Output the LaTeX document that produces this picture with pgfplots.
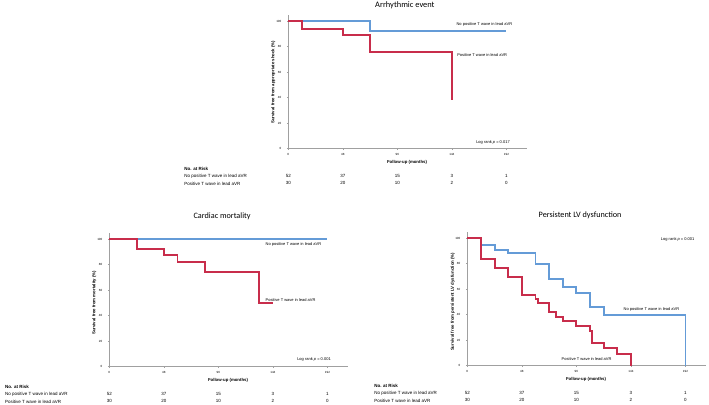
\documentclass[border=0pt]{standalone}
\usepackage{fontspec}
\setmainfont{Liberation Sans}
\newfontfamily\titlefont{Carlito}
\usepackage{pgfplots}
\pgfplotsset{compat=1.18}
\definecolor{kmblue}{RGB}{100,155,215}
\definecolor{kmred}{RGB}{200,45,75}
\definecolor{axgray}{RGB}{160,160,160}
\newcommand{\annf}{\fontsize{4}{4.8}\selectfont}
\newcommand{\labf}{\bfseries\fontsize{4.3}{5}\selectfont}
\newcommand{\tabf}{\fontsize{4.5}{5.4}\selectfont}
\pgfplotsset{kmaxis/.style={
  scale only axis, width=238.6pt, height=134pt,
  xmin=0, xmax=210, ymin=0, ymax=105,
  axis x line=bottom, axis y line=left,
  axis line style={-, draw=axgray, line width=0.8pt},
  xtick={0,48,96,144,192}, ytick={0,20,40,60,80,100},
  tick align=outside, major tick length=1.5pt,
  tick style={draw=axgray, line width=0.5pt},
  ticklabel style={font=\fontsize{3}{3.5}\selectfont},
  yticklabel style={xshift=-2pt},
  /pgf/number format/assume math mode=true,
  clip=false, anchor=south west,
  kmline/.style={line width=1.9pt, line join=miter, line cap=butt},
}}
\newcommand{\risktable}[1]{%
  \node[anchor=west,font=\tabf\bfseries] at (axis cs:#1,-15.7) {No. at Risk};
  \node[anchor=west,font=\tabf] at (axis cs:#1,-21.5) {No positive T wave in lead aVR};
  \node[anchor=west,font=\tabf] at (axis cs:#1,-27.2) {Positive T wave in lead aVR};
  \node[font=\tabf] at (axis cs:0,-21.5) {52};
  \node[font=\tabf] at (axis cs:48,-21.5) {37};
  \node[font=\tabf] at (axis cs:96,-21.5) {15};
  \node[font=\tabf] at (axis cs:144,-21.5) {3};
  \node[font=\tabf] at (axis cs:192,-21.5) {1};
  \node[font=\tabf] at (axis cs:0,-27.2) {30};
  \node[font=\tabf] at (axis cs:48,-27.2) {20};
  \node[font=\tabf] at (axis cs:96,-27.2) {10};
  \node[font=\tabf] at (axis cs:144,-27.2) {2};
  \node[font=\tabf] at (axis cs:192,-27.2) {0};
  \node[font=\labf] at (axis cs:104.5,-11) {Follow-up (months)};
}
\begin{document}
\begin{tikzpicture}
\useasboundingbox (0,0) rectangle (709pt,404pt);
% ---------------- Top: Arrhythmic event
\begin{axis}[kmaxis, at={(288.3pt,255.3pt)}]
\addplot[draw=kmblue, kmline] coordinates {(0,100)(72,100)(72,92.4)(192,92.4)};
\addplot[draw=kmred, kmline] coordinates {(0,100)(12,100)(12,93.5)(48,93.5)(48,88.8)(72,88.8)(72,76)(144,76)(144,38.5)};
\node[anchor=west,font=\annf] at (axis cs:145,97.6) {No positive T wave in lead aVR};
\node[anchor=west,font=\annf] at (axis cs:145.6,73.4) {Positive T wave in lead aVR};
\node[anchor=east,font=\annf] at (axis cs:198,5.2) {Log rank \textit{p} = 0.017};
\node[rotate=90,font=\labf] at ([xshift=-15pt]axis cs:0,52) {Survival free from appropriate shock (\%)};
\node[font=\titlefont\fontsize{8.4}{9.5}\selectfont] at (axis cs:102.6,112.5) {Arrhythmic event};
\risktable{-94.5}
\end{axis}
% ---------------- Bottom left: Cardiac mortality
\begin{axis}[kmaxis, at={(109.3pt,37.3pt)}]
\addplot[draw=kmblue, kmline] coordinates {(0,100)(192,100)};
\addplot[draw=kmred, kmline] coordinates {(0,100)(24,100)(24,92)(48,92)(48,87.2)(60,87.2)(60,81.7)(84,81.7)(84,74.4)(132,74.4)(132,49.6)(144,49.6)};
\node[anchor=west,font=\annf] at (axis cs:134.5,96.1) {No positive T wave in lead aVR};
\node[anchor=west,font=\annf] at (axis cs:134.5,52.2) {Positive T wave in lead aVR};
\node[anchor=east,font=\annf] at (axis cs:198,6) {Log rank \textit{p} = 0.001};
\node[rotate=90,font=\labf] at ([xshift=-15pt]axis cs:0,50) {Survival free from mortality (\%)};
\node[font=\titlefont\fontsize{8.2}{9.5}\selectfont] at (axis cs:99.3,118) {Cardiac mortality};
\risktable{-94.8}
\end{axis}
% ---------------- Bottom right: Persistent LV dysfunction
\begin{axis}[kmaxis, at={(467.3pt,38.3pt)}]
\addplot[draw=kmblue, kmline] coordinates {(0,100)(12,100)(12,94.5)(24,94.5)(24,90.5)(36,90.5)(36,88)(60,88)(60,79.7)(72,79.7)(72,67.9)(84,67.9)(84,61.4)(96,61.4)(96,57.2)(108,57.2)(108,46)(120,46)(120,40)(192,40)(192,0)};
\addplot[draw=kmred, kmline] coordinates {(0,100)(12,100)(12,83.5)(24,83.5)(24,76.3)(36,76.3)(36,69.7)(48,69.7)(48,55.7)(60,55.7)(60,52.2)(62,52.2)(62,49)(72,49)(72,42.2)(78,42.2)(78,38.2)(84,38.2)(84,35)(96,35)(96,31.3)(108,31.3)(108,27.5)(110,27.5)(110,17.8)(120,17.8)(120,13.6)(132,13.6)(132,9)(144,9)(144,0)};
\node[anchor=west,font=\annf] at (axis cs:134.5,43.7) {No positive T wave in lead aVR};
\node[anchor=west,font=\annf] at (axis cs:80,5.3) {Positive T wave in lead aVR};
\node[anchor=east,font=\annf] at (axis cs:203,98.7) {Log rank \textit{p} = 0.001};
\node[rotate=90,font=\labf] at ([xshift=-14.5pt]axis cs:0,50) {Survival free from persistent LV dysfunction (\%)};
\node[font=\titlefont\fontsize{8.2}{9.5}\selectfont] at (axis cs:99.3,118) {Persistent LV dysfunction};
\risktable{-85}
\end{axis}
\end{tikzpicture}
\end{document}
